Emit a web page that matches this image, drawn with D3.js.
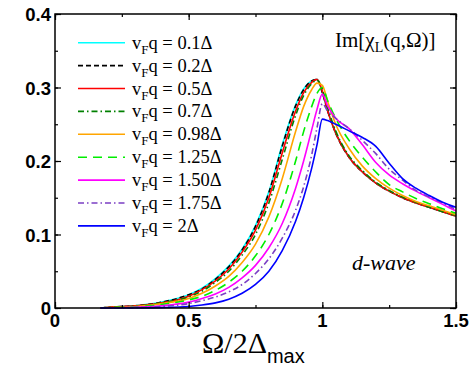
<!DOCTYPE html>
<html>
<head>
<meta charset="utf-8">
<script src="https://cdn.jsdelivr.net/npm/d3@7"></script>
<style>
    body { margin: 0; background: #fff; }
    svg { display: block; }
    .tick-label { font-family: "Liberation Sans", Arial, sans-serif; font-weight: bold; font-size: 18.5px; }
    .serif { font-family: "Liberation Serif", "Times New Roman", serif; }
</style>
</head>
<body>
<svg id="chart" width="474" height="366"></svg>
<script>
// Omega / 2 Delta_max grid shared by all curves
const omega = [0.17, 0.2, 0.3, 0.4, 0.5, 0.55, 0.6, 0.65, 0.7, 0.75, 0.8, 0.85, 0.9, 0.93, 0.96, 0.98,
               1.0, 1.02, 1.05, 1.1, 1.15, 1.2, 1.25, 1.3, 1.35, 1.4, 1.45, 1.5];

// Im[chi_L] for each v_F q
const q01  = [0, 0.001, 0.003, 0.008, 0.018, 0.027, 0.040, 0.057, 0.080, 0.112, 0.158, 0.222, 0.276, 0.298, 0.309, 0.311,
              0.293, 0.268, 0.238, 0.205, 0.185, 0.170, 0.159, 0.150, 0.143, 0.137, 0.131, 0.125];
const q02  = [0, 0.001, 0.003, 0.008, 0.018, 0.026, 0.039, 0.056, 0.079, 0.111, 0.157, 0.220, 0.275, 0.297, 0.309, 0.311,
              0.293, 0.268, 0.238, 0.205, 0.185, 0.170, 0.159, 0.150, 0.143, 0.137, 0.131, 0.125];
const q05  = [0, 0.001, 0.003, 0.007, 0.016, 0.025, 0.037, 0.053, 0.076, 0.106, 0.150, 0.211, 0.268, 0.293, 0.307, 0.311,
              0.295, 0.268, 0.238, 0.205, 0.185, 0.170, 0.159, 0.150, 0.143, 0.137, 0.131, 0.125];
const q07  = [0, 0.0008, 0.0025, 0.007, 0.015, 0.023, 0.035, 0.050, 0.072, 0.100, 0.143, 0.202, 0.262, 0.289, 0.305, 0.310,
              0.298, 0.272, 0.241, 0.207, 0.187, 0.171, 0.160, 0.151, 0.144, 0.137, 0.131, 0.126];
const q098 = [0, 0.0005, 0.002, 0.006, 0.013, 0.020, 0.030, 0.043, 0.062, 0.087, 0.124, 0.176, 0.240, 0.274, 0.297, 0.306,
              0.303, 0.281, 0.250, 0.217, 0.193, 0.176, 0.163, 0.153, 0.145, 0.139, 0.133, 0.127];
const q125 = [0, 0.0003, 0.0015, 0.005, 0.011, 0.016, 0.024, 0.035, 0.050, 0.071, 0.100, 0.142, 0.200, 0.240, 0.274, 0.292,
              0.300, 0.282, 0.258, 0.228, 0.205, 0.185, 0.168, 0.158, 0.149, 0.142, 0.135, 0.129];
const q150 = [0, 0, 0.001, 0.003, 0.008, 0.013, 0.019, 0.028, 0.041, 0.058, 0.082, 0.115, 0.163, 0.200, 0.242, 0.270,
              0.291, 0.275, 0.258, 0.244, 0.222, 0.198, 0.181, 0.169, 0.159, 0.150, 0.141, 0.132];
const q175 = [0, 0, 0.0005, 0.002, 0.006, 0.010, 0.015, 0.022, 0.032, 0.047, 0.067, 0.095, 0.133, 0.165, 0.208, 0.245,
              0.278, 0.268, 0.258, 0.244, 0.228, 0.210, 0.189, 0.174, 0.160, 0.151, 0.143, 0.134];
const q200 = [0, 0, 0, 0.0005, 0.002, 0.004, 0.007, 0.012, 0.020, 0.032, 0.050, 0.078, 0.118, 0.150, 0.190, 0.222,
              0.257, 0.255, 0.250, 0.241, 0.232, 0.220, 0.197, 0.176, 0.163, 0.153, 0.144, 0.137];

const legendValues = ['0.1\u0394', '0.2\u0394', '0.5\u0394', '0.7\u0394', '0.98\u0394', '1.25\u0394', '1.50\u0394', '1.75\u0394', '2\u0394'];
const xTicks = [0, 0.5, 1, 1.5];
const xTickLabels = ['0', '0.5', '1', '1.5'];
const yTicks = [0, 0.1, 0.2, 0.3, 0.4];
const yTickLabels = ['0', '0.1', '0.2', '0.3', '0.4'];

const allSeries = [q01, q02, q05, q07, q098, q125, q150, q175, q200];
const styles = [
    { color: '#00ffff', dash: null },
    { color: '#000000', dash: '5,3' },
    { color: '#ff0000', dash: null },
    { color: '#008000', dash: '6,3,1.5,3' },
    { color: '#ffa500', dash: null },
    { color: '#00ee00', dash: '9,6' },
    { color: '#ff00ff', dash: null },
    { color: '#7b3fc4', dash: '6,3,1.5,3' },
    { color: '#0000ff', dash: null }
];

const svg = d3.select('#chart');
const mLeft = 55, mRight = 456, mTop = 14, mBottom = 308;

const x = d3.scaleLinear().domain([0, 1.5]).range([mLeft, mRight]);
const y = d3.scaleLinear().domain([0, 0.4]).range([mBottom, mTop]);

// curves
const line = d3.line()
    .x(d => x(d[0]))
    .y(d => y(d[1]))
    .curve(d3.curveMonotoneX);

const curves = svg.append('g');
allSeries.forEach((vals, i) => {
    curves.append('path')
        .datum(omega.map((o, k) => [o, vals[k]]))
        .attr('d', line)
        .attr('fill', 'none')
        .attr('stroke', styles[i].color)
        .attr('stroke-width', 1.6)
        .attr('stroke-dasharray', styles[i].dash);
});

// inward ticks on all four sides, minor then major
const xMinor = d3.range(0, 1.51, 0.25);
const yMinor = d3.range(0, 0.401, 0.05);

function addAxis(axisFn, scale, transform) {
    svg.append('g').attr('transform', transform)
        .call(axisFn(scale).tickValues(scale === x ? xMinor : yMinor).tickSize(-3).tickFormat(''));
    svg.append('g').attr('transform', transform)
        .call(axisFn(scale).tickValues(scale === x ? xTicks : yTicks).tickSize(-6).tickFormat(''));
}
addAxis(d3.axisBottom, x, `translate(0,${mBottom})`);
addAxis(d3.axisTop, x, `translate(0,${mTop})`);
addAxis(d3.axisLeft, y, `translate(${mLeft},0)`);
addAxis(d3.axisRight, y, `translate(${mRight},0)`);

svg.selectAll('.domain').remove();
svg.selectAll('.tick line').attr('stroke', '#000').attr('stroke-width', 1.2);

svg.append('rect')
    .attr('x', mLeft).attr('y', mTop)
    .attr('width', mRight - mLeft).attr('height', mBottom - mTop)
    .attr('fill', 'none').attr('stroke', '#000').attr('stroke-width', 1.5);

// tick labels
svg.selectAll('.xlab').data(xTicks).enter().append('text')
    .attr('class', 'tick-label')
    .attr('x', d => x(d)).attr('y', mBottom + 19)
    .attr('text-anchor', 'middle')
    .text((d, i) => xTickLabels[i]);

svg.selectAll('.ylab').data(yTicks).enter().append('text')
    .attr('class', 'tick-label')
    .attr('x', mLeft - 4).attr('y', d => y(d) + 7)
    .attr('text-anchor', 'end')
    .text((d, i) => yTickLabels[i]);

// x axis title
const xt = svg.append('text').attr('x', 202).attr('y', 353);
xt.append('tspan').attr('class', 'serif').style('font-size', '30px').text('\u03a9/2\u0394');
xt.append('tspan').attr('dy', 10).style('font-family', '"Liberation Sans", Arial, sans-serif').style('font-size', '20px').text('max');

// panel labels
const im = svg.append('text').attr('class', 'serif').attr('x', 335).attr('y', 47).style('font-size', '21px');
im.append('tspan').text('Im[\u03c7');
im.append('tspan').attr('dy', 5).style('font-size', '14px').text('L');
im.append('tspan').attr('dy', -5).text('(q,\u03a9)]');

svg.append('text').attr('class', 'serif')
    .attr('x', 352).attr('y', 270)
    .style('font-size', '22px').style('font-style', 'italic')
    .text('d-wave');

// legend
const legend = svg.append('g');
legendValues.forEach((lab, i) => {
    const ly = 42.7 + i * 22.9;
    legend.append('line')
        .attr('x1', 78).attr('x2', 125).attr('y1', ly).attr('y2', ly)
        .attr('stroke', styles[i].color)
        .attr('stroke-width', 1.6)
        .attr('stroke-dasharray', styles[i].dash);
    const t = legend.append('text').attr('class', 'serif')
        .attr('x', 132).attr('y', ly + 6).style('font-size', '18.5px');
    t.append('tspan').text('v');
    t.append('tspan').attr('dy', 5).style('font-size', '13px').text('F');
    t.append('tspan').attr('dy', -5).text('q = ' + lab);
});
</script>
</body>
</html>
